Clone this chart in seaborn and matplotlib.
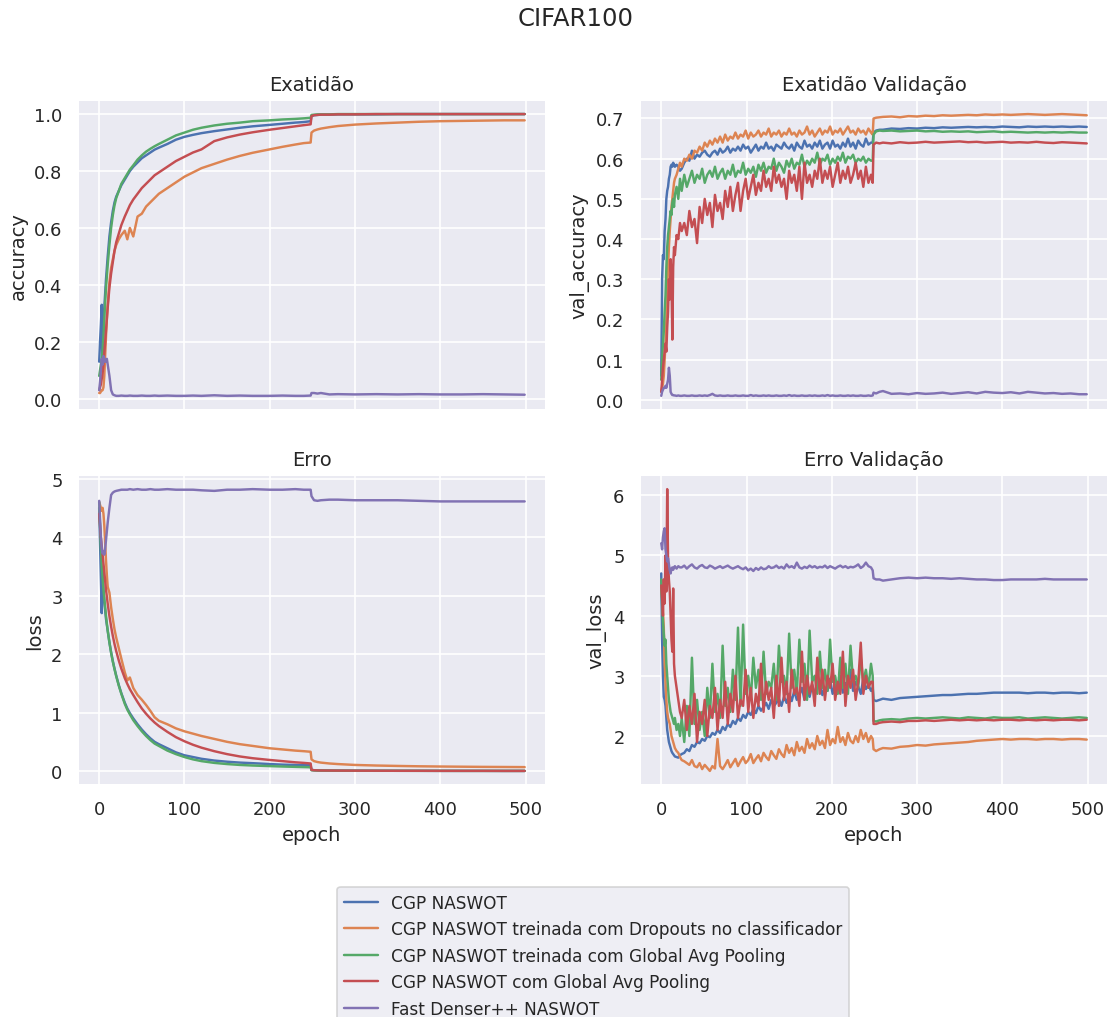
import numpy as np
import pandas as pd
import matplotlib
matplotlib.use("Agg")
import matplotlib.pyplot as plt
import seaborn as sns

# ---------------- data ----------------
models = [
    "CGP NASWOT",
    "CGP NASWOT treinada com Dropouts no classificador",
    "CGP NASWOT treinada com Global Avg Pooling",
    "CGP NASWOT com Global Avg Pooling",
    "Fast Denser++ NASWOT",
]

# epochs sampled for the training curves
epochs_train = [0, 1, 2, 3, 4, 5, 6, 7, 8, 9, 10, 12, 14, 16, 18, 20, 23, 26, 30, 33, 36, 40, 45, 50,
                55, 60, 65, 70, 80, 90, 100, 110, 120, 135, 150, 165, 180, 200, 215, 230, 240, 248,
                249, 252, 256, 260, 270, 280, 300, 325, 350, 375, 400, 425, 450, 475, 499]

# epochs sampled for the validation curves
epochs_val = (list(range(0, 17)) + [18, 20, 22] + list(range(24, 247, 3)) + [248, 249, 252, 256]
              + list(range(260, 491, 10)) + [499])

# ---- accuracy (train)
acc_cgp = [0.13, 0.2, 0.26, 0.33, 0.15, 0.25, 0.32, 0.37, 0.42, 0.46, 0.5, 0.57, 0.62, 0.66, 0.69, 0.71,
           0.73, 0.75, 0.77, 0.785, 0.8, 0.815, 0.83, 0.845, 0.855, 0.865, 0.875, 0.882, 0.895, 0.91,
           0.92, 0.927, 0.933, 0.94, 0.946, 0.952, 0.957, 0.962, 0.966, 0.97, 0.972, 0.975,
           0.993, 0.996, 0.997, 0.998, 0.998, 0.999, 0.999, 0.999, 1.0, 1.0, 1.0, 1.0, 1.0, 1.0, 1.0]
acc_drop = [0.02, 0.02, 0.025, 0.03, 0.03, 0.04, 0.08, 0.15, 0.22, 0.28, 0.33, 0.41, 0.46, 0.49, 0.52,
            0.54, 0.56, 0.575, 0.59, 0.56, 0.6, 0.57, 0.64, 0.65, 0.675, 0.69, 0.705, 0.72, 0.74, 0.76,
            0.78, 0.795, 0.81, 0.825, 0.84, 0.853, 0.864, 0.876, 0.885, 0.893, 0.898, 0.9,
            0.935, 0.942, 0.946, 0.949, 0.954, 0.958, 0.963, 0.967, 0.97, 0.973, 0.975, 0.976, 0.977,
            0.978, 0.978]
acc_gap_t = [0.08, 0.1, 0.12, 0.14, 0.17, 0.22, 0.28, 0.34, 0.39, 0.43, 0.47, 0.54, 0.6, 0.645, 0.68,
             0.705, 0.73, 0.755, 0.775, 0.79, 0.805, 0.82, 0.84, 0.855, 0.868, 0.878, 0.887, 0.895,
             0.91, 0.925, 0.935, 0.945, 0.952, 0.96, 0.966, 0.97, 0.975, 0.978, 0.981, 0.983, 0.985,
             0.987, 0.997, 0.998, 0.999, 0.999, 0.999, 1.0, 1.0, 1.0, 1.0, 1.0, 1.0, 1.0, 1.0, 1.0, 1.0]
acc_gap = [0.03, 0.04, 0.05, 0.07, 0.09, 0.12, 0.16, 0.2, 0.24, 0.28, 0.32, 0.39, 0.44, 0.48, 0.52,
           0.55, 0.58, 0.61, 0.64, 0.66, 0.68, 0.7, 0.72, 0.74, 0.755, 0.77, 0.785, 0.795, 0.815,
           0.835, 0.85, 0.865, 0.876, 0.905, 0.918, 0.928, 0.936, 0.945, 0.951, 0.957, 0.961, 0.964,
           0.993, 0.996, 0.997, 0.998, 0.998, 0.999, 0.999, 1.0, 1.0, 1.0, 1.0, 1.0, 1.0, 1.0, 1.0]
acc_fd = [0.03, 0.06, 0.1, 0.14, 0.12, 0.15, 0.13, 0.14, 0.13, 0.14, 0.12, 0.08, 0.03, 0.015, 0.012,
          0.01, 0.01, 0.011, 0.01, 0.01, 0.011, 0.01, 0.01, 0.011, 0.01, 0.01, 0.011, 0.01, 0.011,
          0.01, 0.01, 0.011, 0.01, 0.012, 0.01, 0.011, 0.01, 0.01, 0.011, 0.01, 0.01, 0.011,
          0.02, 0.02, 0.018, 0.02, 0.015, 0.016, 0.015, 0.016, 0.015, 0.016, 0.015, 0.015, 0.016,
          0.015, 0.014]

# ---- loss (train)
loss_cgp = [4.5, 3.9, 3.3, 2.7, 3.4, 3.1, 2.9, 2.75, 2.6, 2.5, 2.4, 2.2, 2.03, 1.88, 1.75, 1.63,
            1.47, 1.33, 1.17, 1.07, 0.99, 0.9, 0.8, 0.71, 0.63, 0.56, 0.5, 0.46, 0.39, 0.32, 0.27,
            0.24, 0.21, 0.18, 0.16, 0.145, 0.135, 0.12, 0.11, 0.105, 0.1, 0.1,
            0.02, 0.015, 0.012, 0.01, 0.009, 0.008, 0.007, 0.006, 0.005, 0.005, 0.004, 0.004, 0.004,
            0.003, 0.003]
loss_drop = [4.6, 4.55, 4.5, 4.45, 4.5, 4.4, 4.2, 3.9, 3.6, 3.35, 3.15, 3.05, 2.8, 2.6, 2.42, 2.28,
             2.1, 1.92, 1.69, 1.55, 1.6, 1.42, 1.3, 1.22, 1.13, 1.03, 0.92, 0.86, 0.8, 0.73, 0.68,
             0.64, 0.6, 0.55, 0.5, 0.46, 0.43, 0.39, 0.37, 0.35, 0.34, 0.33,
             0.2, 0.17, 0.155, 0.145, 0.13, 0.12, 0.105, 0.095, 0.088, 0.082, 0.078, 0.075, 0.072,
             0.07, 0.068]
loss_gap_t = [4.6, 4.2, 3.8, 3.5, 3.3, 3.1, 2.95, 2.8, 2.65, 2.52, 2.4, 2.2, 2.02, 1.87, 1.74, 1.62,
              1.46, 1.32, 1.15, 1.05, 0.97, 0.87, 0.77, 0.68, 0.6, 0.53, 0.47, 0.43, 0.35, 0.29,
              0.24, 0.2, 0.17, 0.14, 0.12, 0.105, 0.095, 0.085, 0.078, 0.072, 0.068, 0.065,
              0.015, 0.012, 0.01, 0.009, 0.008, 0.007, 0.006, 0.005, 0.005, 0.004, 0.004, 0.003,
              0.003, 0.003, 0.003]
loss_gap = [4.4, 4.2, 4.0, 3.85, 3.7, 3.55, 3.4, 3.25, 3.1, 2.98, 2.86, 2.65, 2.47, 2.31, 2.17, 2.05,
            1.89, 1.75, 1.59, 1.49, 1.4, 1.3, 1.18, 1.07, 0.98, 0.9, 0.83, 0.77, 0.67, 0.58, 0.51,
            0.45, 0.4, 0.34, 0.29, 0.25, 0.22, 0.19, 0.17, 0.15, 0.14, 0.13,
            0.02, 0.015, 0.012, 0.01, 0.009, 0.008, 0.007, 0.006, 0.005, 0.005, 0.004, 0.004, 0.004,
            0.003, 0.003]
loss_fd = [4.62, 4.3, 4.0, 3.8, 3.72, 3.75, 3.7, 3.8, 3.95, 4.1, 4.25, 4.5, 4.72, 4.76, 4.78, 4.79,
           4.8, 4.81, 4.81, 4.81, 4.82, 4.81, 4.82, 4.81, 4.81, 4.82, 4.81, 4.81, 4.82, 4.81, 4.81,
           4.81, 4.8, 4.79, 4.81, 4.81, 4.82, 4.81, 4.81, 4.82, 4.81, 4.81,
           4.7, 4.63, 4.62, 4.63, 4.64, 4.64, 4.63, 4.63, 4.63, 4.62, 4.61, 4.61, 4.61, 4.61, 4.61]

# ---- val_accuracy
vacc_cgp = [0.06, 0.3, 0.36, 0.35, 0.42, 0.45, 0.5, 0.52, 0.53, 0.55, 0.56, 0.58, 0.585, 0.58, 0.59,
            0.585, 0.58, 0.585, 0.58, 0.57,
            0.575, 0.59, 0.6, 0.595, 0.62, 0.6, 0.61, 0.605, 0.615, 0.62, 0.61, 0.605, 0.615, 0.62,
            0.61, 0.625, 0.615, 0.62, 0.63, 0.615, 0.625, 0.62, 0.63, 0.62, 0.635, 0.625, 0.63, 0.615,
            0.625, 0.635, 0.62, 0.63, 0.625, 0.64, 0.625, 0.63, 0.62, 0.635, 0.63, 0.625, 0.64, 0.63,
            0.625, 0.635, 0.62, 0.64, 0.63, 0.625, 0.645, 0.63, 0.635, 0.625, 0.64, 0.63, 0.645,
            0.625, 0.635, 0.64, 0.625, 0.645, 0.63, 0.635, 0.625, 0.64, 0.63, 0.65, 0.63, 0.64,
            0.625, 0.645, 0.635, 0.63, 0.65, 0.635, 0.64,
            0.64, 0.665, 0.67, 0.672,
            0.672, 0.675, 0.674, 0.676, 0.675, 0.677, 0.676, 0.678, 0.677, 0.678, 0.679, 0.678, 0.679,
            0.678, 0.68, 0.679, 0.678, 0.68, 0.679, 0.68, 0.679, 0.68, 0.679, 0.68,
            0.679]
vacc_drop = [0.02, 0.03, 0.04, 0.06, 0.1, 0.14, 0.2, 0.27, 0.33, 0.38, 0.42, 0.45, 0.48, 0.5, 0.52,
             0.54, 0.55, 0.56, 0.575, 0.59,
             0.58, 0.6, 0.595, 0.61, 0.6, 0.62, 0.615, 0.63, 0.62, 0.64, 0.63, 0.645, 0.635, 0.65,
             0.64, 0.655, 0.64, 0.66, 0.645, 0.655, 0.65, 0.665, 0.65, 0.66, 0.655, 0.67, 0.65, 0.665,
             0.655, 0.66, 0.67, 0.655, 0.665, 0.66, 0.675, 0.655, 0.665, 0.66, 0.67, 0.655, 0.665,
             0.66, 0.675, 0.66, 0.665, 0.655, 0.67, 0.66, 0.665, 0.68, 0.66, 0.67, 0.655, 0.665,
             0.675, 0.66, 0.67, 0.665, 0.68, 0.66, 0.67, 0.665, 0.675, 0.66, 0.67, 0.68, 0.665,
             0.67, 0.66, 0.675, 0.665, 0.67, 0.66, 0.675, 0.665,
             0.66, 0.7, 0.702, 0.703,
             0.704, 0.705, 0.703, 0.706, 0.705, 0.707, 0.706, 0.708, 0.707, 0.708, 0.709, 0.708, 0.71,
             0.709, 0.71, 0.709, 0.71, 0.711, 0.71, 0.709, 0.71, 0.711, 0.71, 0.709,
             0.708]
vacc_gap_t = [0.05, 0.1, 0.14, 0.17, 0.22, 0.26, 0.33, 0.38, 0.41, 0.43, 0.45, 0.47, 0.46, 0.49, 0.5,
              0.48, 0.51, 0.53, 0.5, 0.55,
              0.52, 0.56, 0.53, 0.55, 0.57, 0.54, 0.56, 0.55, 0.575, 0.54, 0.56, 0.57, 0.555, 0.58,
              0.55, 0.565, 0.575, 0.55, 0.57, 0.56, 0.585, 0.555, 0.57, 0.565, 0.59, 0.56, 0.575,
              0.565, 0.58, 0.555, 0.585, 0.57, 0.59, 0.565, 0.58, 0.575, 0.6, 0.57, 0.59, 0.58, 0.565,
              0.595, 0.58, 0.6, 0.575, 0.59, 0.585, 0.61, 0.58, 0.595, 0.585, 0.6, 0.59, 0.615, 0.585,
              0.6, 0.595, 0.61, 0.585, 0.6, 0.59, 0.605, 0.595, 0.615, 0.59, 0.605, 0.6, 0.61, 0.59,
              0.6, 0.595, 0.605, 0.59, 0.6, 0.595,
              0.595, 0.66, 0.668, 0.67,
              0.669, 0.67, 0.668, 0.669, 0.67, 0.668, 0.669, 0.667, 0.668, 0.667, 0.668, 0.666, 0.667,
              0.668, 0.666, 0.667, 0.666, 0.665, 0.666, 0.665, 0.666, 0.665, 0.666, 0.665,
              0.665]
vacc_gap = [0.02, 0.05, 0.08, 0.1, 0.12, 0.14, 0.12, 0.18, 0.22, 0.3, 0.25, 0.35, 0.3, 0.15, 0.33,
            0.38, 0.36, 0.41, 0.4, 0.44,
            0.42, 0.44, 0.41, 0.47, 0.43, 0.45, 0.39, 0.48, 0.44, 0.5, 0.46, 0.49, 0.43, 0.51, 0.47,
            0.49, 0.45, 0.52, 0.48, 0.53, 0.47, 0.51, 0.54, 0.47, 0.52, 0.55, 0.5, 0.53, 0.56, 0.51,
            0.54, 0.52, 0.57, 0.53, 0.55, 0.52, 0.58, 0.54, 0.56, 0.53, 0.55, 0.5, 0.57, 0.54, 0.56,
            0.52, 0.58, 0.5, 0.59, 0.54, 0.56, 0.53, 0.57, 0.55, 0.6, 0.54, 0.57, 0.55, 0.58, 0.53,
            0.56, 0.59, 0.54, 0.57, 0.55, 0.58, 0.54, 0.56, 0.59, 0.55, 0.57, 0.53, 0.58, 0.54, 0.56,
            0.54, 0.635, 0.64, 0.638,
            0.64, 0.638, 0.641, 0.639, 0.64, 0.642, 0.64, 0.641, 0.642, 0.643, 0.641, 0.642, 0.64,
            0.641, 0.642, 0.64, 0.641, 0.64, 0.642, 0.64, 0.639, 0.641, 0.64, 0.639,
            0.638]
vacc_fd = [0.01, 0.02, 0.025, 0.03, 0.03, 0.035, 0.03, 0.04, 0.05, 0.08, 0.06, 0.02, 0.015, 0.012,
           0.012, 0.011, 0.011, 0.01, 0.011, 0.01,
           0.01, 0.011, 0.01, 0.01, 0.011, 0.01, 0.01, 0.011, 0.01, 0.011, 0.01, 0.012, 0.015, 0.011,
           0.01, 0.011, 0.01, 0.01, 0.011, 0.01, 0.01, 0.011, 0.01, 0.01, 0.011, 0.01, 0.01, 0.012,
           0.01, 0.011, 0.01, 0.01, 0.011, 0.01, 0.011, 0.01, 0.01, 0.011, 0.01, 0.01, 0.011, 0.01,
           0.012, 0.01, 0.011, 0.01, 0.01, 0.011, 0.01, 0.01, 0.011, 0.01, 0.011, 0.01, 0.01, 0.011,
           0.01, 0.012, 0.01, 0.011, 0.01, 0.01, 0.011, 0.01, 0.01, 0.011, 0.01, 0.011, 0.01, 0.01,
           0.011, 0.01, 0.01, 0.011, 0.01,
           0.011, 0.018, 0.016, 0.02,
           0.022, 0.015, 0.016, 0.014, 0.017, 0.015, 0.016, 0.018, 0.015, 0.017, 0.019, 0.016, 0.02,
           0.018, 0.017, 0.019, 0.016, 0.02, 0.018, 0.016, 0.017, 0.015, 0.016, 0.014,
           0.014]

# ---- val_loss
vloss_cgp = [4.7, 3.6, 3.0, 2.65, 2.6, 2.5, 2.3, 2.1, 2.0, 1.9, 1.85, 1.8, 1.75, 1.72, 1.7, 1.68,
             1.66, 1.65, 1.64, 1.68,
             1.7, 1.72, 1.78, 1.75, 1.85, 1.82, 1.9, 1.88, 1.95, 1.92, 2.0, 1.98, 2.05, 2.02, 2.1,
             2.05, 2.15, 2.1, 2.2, 2.15, 2.25, 2.2, 2.3, 2.25, 2.35, 2.3, 2.4, 2.35, 2.45, 2.38, 2.5,
             2.42, 2.48, 2.55, 2.45, 2.6, 2.5, 2.55, 2.62, 2.5, 2.65, 2.55, 2.7, 2.58, 2.75, 2.6,
             2.68, 2.8, 2.6, 2.75, 2.65, 2.85, 2.7, 2.78, 2.9, 2.68, 2.8, 2.75, 2.95, 2.7, 2.85, 2.78,
             3.0, 2.72, 2.88, 2.8, 3.1, 2.75, 2.9, 2.82, 2.7, 2.95, 2.78, 2.85, 2.75,
             2.8, 2.6, 2.58, 2.6,
             2.62, 2.6, 2.63, 2.64, 2.65, 2.66, 2.67, 2.68, 2.68, 2.69, 2.7, 2.7, 2.71, 2.72, 2.72,
             2.72, 2.72, 2.71, 2.72, 2.72, 2.71, 2.72, 2.72, 2.71,
             2.72]
vloss_drop = [4.5, 4.3, 4.1, 3.8, 3.2, 2.9, 2.6, 2.4, 2.3, 2.25, 2.2, 2.1, 2.0, 1.95, 1.9, 1.85,
              1.8, 1.75, 1.72, 1.65,
              1.6, 1.58, 1.55, 1.52, 1.6, 1.5, 1.48, 1.55, 1.45, 1.52, 1.47, 1.42, 1.5, 1.46, 1.95,
              1.5, 1.45, 1.52, 1.6, 1.48, 1.55, 1.62, 1.5, 1.58, 1.65, 1.55, 1.6, 1.7, 1.55, 1.62,
              1.68, 1.58, 1.72, 1.65, 1.6, 1.75, 1.68, 1.62, 1.78, 1.7, 1.65, 1.85, 1.72, 1.8, 1.68,
              1.9, 1.75, 1.82, 1.72, 1.95, 1.8, 1.88, 1.78, 2.0, 1.85, 1.92, 1.8, 2.1, 1.85, 1.95,
              1.88, 2.15, 1.9, 1.98, 1.85, 2.05, 1.92, 1.88, 2.0, 1.9, 2.1, 1.95, 2.05, 1.9, 2.0,
              1.95, 1.78, 1.75, 1.78,
              1.8, 1.79, 1.82, 1.83, 1.85, 1.84, 1.86, 1.87, 1.88, 1.89, 1.9, 1.92, 1.93, 1.94, 1.95,
              1.94, 1.95, 1.95, 1.94, 1.95, 1.95, 1.94, 1.95, 1.95,
              1.94]
vloss_gap_t = [4.6, 4.2, 3.9, 3.7, 3.5, 3.6, 3.2, 3.0, 2.8, 2.6, 2.5, 2.4, 2.35, 2.3, 2.25, 2.2,
               2.3, 2.1, 2.2, 2.0,
               2.3, 1.9, 2.5, 2.0, 3.3, 2.2, 2.6, 2.1, 2.4, 2.0, 2.8, 2.3, 3.2, 2.4, 2.7, 2.3, 3.5,
               2.5, 2.8, 2.4, 3.1, 2.6, 3.8, 2.5, 3.85, 2.7, 3.0, 2.6, 3.3, 2.8, 3.1, 2.6, 3.4, 2.7,
               2.9, 2.8, 3.2, 2.6, 3.5, 2.9, 3.0, 2.7, 3.7, 2.8, 3.1, 2.7, 3.6, 2.9, 3.2, 2.6, 3.75,
               2.9, 3.0, 2.7, 3.4, 2.8, 3.1, 2.75, 3.6, 2.9, 3.0, 2.7, 3.3, 2.8, 3.2, 2.7, 3.5, 2.9,
               3.0, 2.8, 3.3, 2.9, 3.1, 2.8, 3.2,
               3.0, 2.25, 2.24, 2.26,
               2.27, 2.28, 2.27, 2.29, 2.3, 2.29, 2.3, 2.31, 2.3, 2.29, 2.31, 2.3, 2.29, 2.31, 2.3,
               2.3, 2.31, 2.29, 2.3, 2.31, 2.3, 2.29, 2.3, 2.31,
               2.3]
vloss_gap = [4.5, 4.3, 4.0, 4.6, 4.2, 5.0, 4.4, 6.1, 4.9, 4.6, 4.4, 4.0, 3.6, 3.4, 4.45, 3.2, 3.0,
             2.8, 2.6, 2.4,
             2.3, 2.6, 2.1, 2.5, 2.2, 2.7, 1.9, 2.4, 2.2, 2.6, 2.0, 2.5, 2.3, 2.8, 2.1, 2.6, 2.3,
             2.9, 2.2, 2.7, 2.4, 3.0, 2.3, 2.6, 2.5, 3.1, 2.4, 2.8, 2.3, 2.7, 2.5, 3.2, 2.4, 2.9,
             2.6, 2.8, 2.3, 3.0, 2.5, 3.3, 2.6, 2.9, 2.4, 3.1, 2.7, 2.8, 2.5, 3.4, 2.6, 3.0, 2.7,
             2.9, 2.5, 3.3, 2.7, 3.1, 2.6, 3.0, 2.8, 3.2, 2.6, 2.9, 2.7, 3.4, 2.5, 3.0, 2.8, 3.1,
             2.6, 2.9, 3.55, 2.7, 3.0, 2.8, 2.9,
             2.9, 2.2, 2.2, 2.22,
             2.23, 2.24, 2.23, 2.25, 2.25, 2.26, 2.25, 2.26, 2.27, 2.26, 2.27, 2.26, 2.27, 2.26, 2.27,
             2.27, 2.26, 2.27, 2.26, 2.27, 2.26, 2.27, 2.27, 2.26,
             2.27]
vloss_fd = [5.2, 5.1, 5.3, 5.4, 5.45, 5.1, 5.0, 4.9, 4.95, 4.85, 4.75, 4.7, 4.78, 4.8, 4.76, 4.8,
            4.82, 4.78, 4.82, 4.8,
            4.8, 4.83, 4.78, 4.82, 4.85, 4.8, 4.78, 4.82, 4.84, 4.8, 4.79, 4.83, 4.81, 4.78, 4.8,
            4.82, 4.79, 4.81, 4.83, 4.8, 4.78, 4.8, 4.82, 4.79, 4.77, 4.8, 4.75, 4.78, 4.74, 4.79,
            4.76, 4.8, 4.77, 4.78, 4.82, 4.79, 4.8, 4.83, 4.79, 4.81, 4.78, 4.85, 4.8, 4.82, 4.79,
            4.88, 4.8, 4.78, 4.81, 4.79, 4.83, 4.8, 4.82, 4.79, 4.81, 4.8, 4.83, 4.79, 4.82, 4.8,
            4.78, 4.81, 4.83, 4.8, 4.82, 4.79, 4.81, 4.8, 4.82, 4.85, 4.79, 4.82, 4.88, 4.82, 4.8,
            4.75, 4.62, 4.6, 4.6,
            4.58, 4.6, 4.62, 4.63, 4.62, 4.63, 4.62, 4.62, 4.61, 4.62, 4.61, 4.6, 4.6, 4.59, 4.59,
            4.6, 4.6, 4.6, 4.6, 4.61, 4.6, 4.6, 4.6, 4.6,
            4.6]

# ---------------- build tables ----------------
def long_table(epochs, series, metric):
    frames = []
    for name, vals in zip(models, series):
        frames.append(pd.DataFrame({"epoch": epochs, metric: vals, "modelo": name}))
    return pd.concat(frames, ignore_index=True)

df_acc = long_table(epochs_train, [acc_cgp, acc_drop, acc_gap_t, acc_gap, acc_fd], "accuracy")
df_loss = long_table(epochs_train, [loss_cgp, loss_drop, loss_gap_t, loss_gap, loss_fd], "loss")
df_vacc = long_table(epochs_val, [vacc_cgp, vacc_drop, vacc_gap_t, vacc_gap, vacc_fd], "val_accuracy")
df_vloss = long_table(epochs_val, [vloss_cgp, vloss_drop, vloss_gap_t, vloss_gap, vloss_fd], "val_loss")

# ---------------- plot ----------------
sns.set_theme(style="darkgrid")
DPI = 117
fig, axes = plt.subplots(2, 2, sharex=True, figsize=(1113 / DPI, 1018 / DPI), dpi=DPI)
fig.subplots_adjust(left=0.070, right=0.9955, top=0.9008, bottom=0.2279, wspace=0.2009, hspace=0.21)

palette = sns.color_palette("deep", 5)
panels = [
    (axes[0, 0], df_acc, "accuracy", "Exatidão"),
    (axes[0, 1], df_vacc, "val_accuracy", "Exatidão Validação"),
    (axes[1, 0], df_loss, "loss", "Erro"),
    (axes[1, 1], df_vloss, "val_loss", "Erro Validação"),
]
for i, (ax, df, metric, title) in enumerate(panels):
    sns.lineplot(data=df, x="epoch", y=metric, hue="modelo", palette=palette,
                 estimator=None, ax=ax, legend=(i == 0))
    ax.set_title(title)

axes[0, 0].set_xlabel("")
axes[0, 1].set_xlabel("")
axes[1, 0].set_xlabel("epoch")
axes[1, 1].set_xlabel("epoch")

handles, labels = axes[0, 0].get_legend_handles_labels()
axes[0, 0].get_legend().remove()
fig.legend(handles, labels, loc="upper center", bbox_to_anchor=(0.533, 0.136), ncol=1,
           fontsize=10.4)

fig.suptitle("CIFAR100", x=0.5175, y=0.993, fontsize=15)

fig.savefig("out.png", dpi=DPI)
